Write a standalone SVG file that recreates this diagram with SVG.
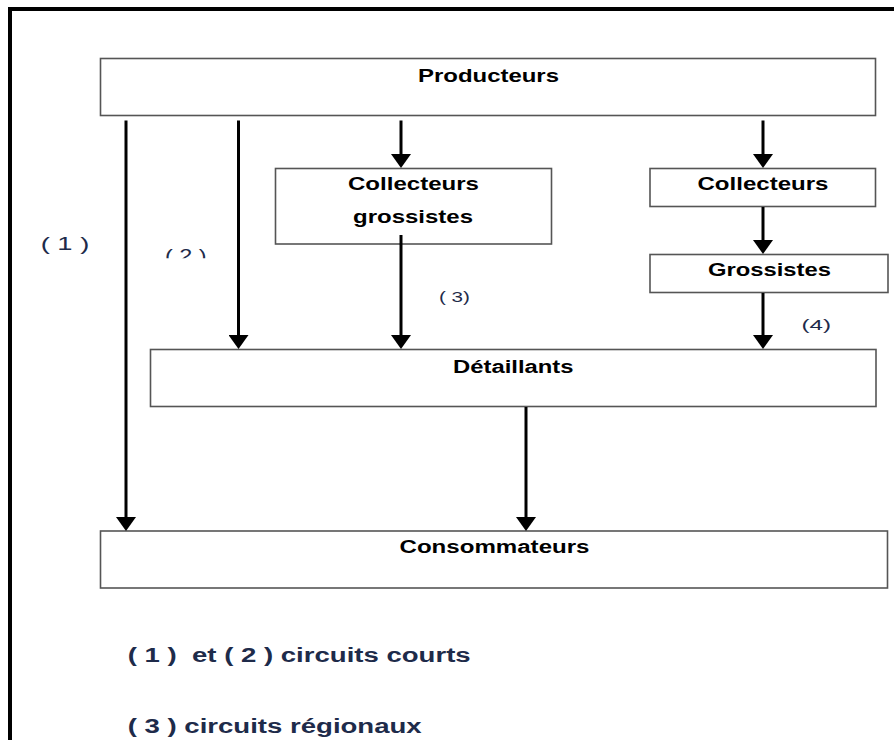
<svg xmlns="http://www.w3.org/2000/svg" width="894" height="740" viewBox="0 0 894 740">
<style>
.box{fill:#fff;stroke:#555;stroke-width:1.6}
.t{font-family:"Liberation Sans",Arial,sans-serif;font-weight:bold;fill:#000;font-size:18px}
.lbl{font-family:"Liberation Sans",Arial,sans-serif;fill:#1e2b4a}
.leg{font-family:"Liberation Sans",Arial,sans-serif;font-weight:bold;fill:#1e2b4a;font-size:20px}
.c{stroke:#000;stroke-width:3;fill:none;marker-end:url(#ah)}
</style>
<defs>
<marker id="ah" viewBox="0 0 14 20" refX="8" refY="10" markerWidth="14" markerHeight="20" markerUnits="userSpaceOnUse" orient="auto">
<path d="M0,0 L14,10 L0,20 Z" fill="#000"/>
</marker>
<clipPath id="clip2"><rect x="150" y="230" width="80" height="28.3"/></clipPath>
</defs>
<rect width="894" height="740" fill="#fff"/>
<g id="frame">
<path d="M10,740 V9 H894" fill="none" stroke="#000" stroke-width="4"/>
</g>
<g id="producteurs">
<rect class="box" x="100.5" y="58.5" width="775" height="57"/>
<text class="t" x="418" y="81.5" textLength="141" lengthAdjust="spacingAndGlyphs">Producteurs</text>
</g>
<g id="collecteurs-grossistes">
<rect class="box" x="275.5" y="168.5" width="276" height="75.5"/>
<text class="t" x="348" y="190" textLength="131" lengthAdjust="spacingAndGlyphs">Collecteurs</text>
<text class="t" x="353" y="223" textLength="120" lengthAdjust="spacingAndGlyphs">grossistes</text>
</g>
<g id="collecteurs">
<rect class="box" x="650" y="168.5" width="225.5" height="38"/>
<text class="t" x="697.5" y="190" textLength="131" lengthAdjust="spacingAndGlyphs">Collecteurs</text>
</g>
<g id="grossistes">
<rect class="box" x="650" y="254.5" width="238" height="38"/>
<text class="t" x="708" y="276" textLength="123" lengthAdjust="spacingAndGlyphs">Grossistes</text>
</g>
<g id="detaillants">
<rect class="box" x="150.5" y="349.5" width="725.5" height="57"/>
<text class="t" x="453" y="373.3" textLength="120.5" lengthAdjust="spacingAndGlyphs">Détaillants</text>
</g>
<g id="consommateurs">
<rect class="box" x="100.5" y="531" width="787" height="57"/>
<text class="t" x="399.5" y="552.7" font-size="17" textLength="190" lengthAdjust="spacingAndGlyphs">Consommateurs</text>
</g>
<g id="connectors">
<line class="c" x1="126" y1="120.5" x2="126" y2="525"/>
<line class="c" x1="238.5" y1="120.5" x2="238.5" y2="343"/>
<line class="c" x1="401" y1="120.5" x2="401" y2="162"/>
<line class="c" x1="401" y1="235" x2="401" y2="343"/>
<line class="c" x1="763" y1="120.5" x2="763" y2="162"/>
<line class="c" x1="763" y1="207" x2="763" y2="248"/>
<line class="c" x1="763" y1="293" x2="763" y2="343"/>
<line class="c" x1="526" y1="407" x2="526" y2="525"/>
</g>
<g id="labels">
<text class="lbl" x="40.7" y="249.5" font-size="18" textLength="48.6" lengthAdjust="spacingAndGlyphs">( 1 )</text>
<text class="lbl" x="165" y="261.5" font-size="18" textLength="41.7" lengthAdjust="spacingAndGlyphs" clip-path="url(#clip2)">( 2 )</text>
<text class="lbl" x="439" y="302" font-size="14.5" textLength="31" lengthAdjust="spacingAndGlyphs">( 3)</text>
<text class="lbl" x="801.5" y="330" font-size="14" textLength="29.5" lengthAdjust="spacingAndGlyphs">(4)</text>
</g>
<g id="legend">
<text class="leg" x="127.7" y="661.7" textLength="343" lengthAdjust="spacingAndGlyphs">( 1 ) &#160;et ( 2 ) circuits courts</text>
<text class="leg" x="127.7" y="733.3" textLength="294" lengthAdjust="spacingAndGlyphs">( 3 ) circuits régionaux</text>
</g>
</svg>
